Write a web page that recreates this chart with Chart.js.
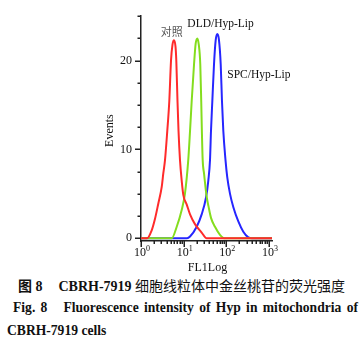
<!DOCTYPE html>
<html lang="zh">
<head>
<meta charset="utf-8">
<title>FL1 histogram</title>
<script src="https://cdn.jsdelivr.net/npm/chart.js@4.4.1/dist/chart.umd.min.js"></script>
<style>
    html, body { margin: 0; padding: 0; background: #fff; }
    .page { position: relative; width: 363px; height: 342px; overflow: hidden; }
    #histChart { position: absolute; left: 0; top: 0; }
    .cap-cn {
        position: absolute; left: 0; top: 279px; width: 363px;
        text-align: center; white-space: nowrap;
        font: 14px/16px "Liberation Serif", "Noto Sans CJK SC", serif; color: #111;
    }
    .cap-cn b { font-weight: bold; }
    .cap-cn .gap { display: inline-block; width: 16px; }
    .cap-en {
        position: absolute; left: 7px; top: 297px; width: 351px; margin: 0;
        text-align: justify; text-indent: 6px;
        font: bold 13.6px/22.5px "Liberation Serif", serif; color: #111;
    }
</style>
</head>
<body>
<div class="page">
    <canvas id="histChart" width="363" height="276"></canvas>
    <div class="cap-cn"><b>图 8</b><span class="gap"></span><b>CBRH-7919</b> 细胞线粒体中金丝桃苷的荧光强度</div>
    <p class="cap-en">Fig. 8&nbsp;&nbsp; Fluorescence intensity of Hyp in mitochondria of CBRH-7919 cells</p>
</div>

<script>
// ---- Histogram data (FL1 intensity, events per channel) ----
const seriesNames = ['对照', 'DLD/Hyp-Lip', 'SPC/Hyp-Lip'];

const ctrlX = [1, 1.38, 1.78, 2.13, 2.54, 3.06, 3.33, 3.65, 4.13, 4.6, 5.05, 5.47, 5.93,
               6.43, 6.72, 7.17, 7.57, 8.2, 8.99, 9.8, 11.8, 14.1, 18.4, 26.4, 34.6, 1175];
const ctrlY = [0, 0, 0.9, 2.2, 3.9, 5.8, 7.3, 8.8, 12.1, 15.4, 20, 21.8, 22.3,
               21.6, 20, 15.4, 12.1, 8.8, 6.5, 4.9, 3.8, 2.7, 1.6, 0.65, 0, 0];

const dldX = [1, 4.29, 5.24, 6.87, 8.99, 10.7, 12.8, 14.1, 15.4, 17.5, 19.1, 20.9, 22.6,
              24.5, 25.8, 26.7, 27.9, 30.0, 34.3, 38.2, 43.7, 54.2, 71.0, 93.0, 1175];
const dldY = [0, 0, 0, 1.3, 3.2, 5.0, 8.8, 12.1, 15.4, 19.6, 21.9, 22.5, 21.8,
              19.6, 15.4, 12.1, 8.8, 7.3, 4.8, 3.6, 2.3, 1.3, 0.4, 0, 0];

const spcX = [1, 12.0, 14.1, 20.2, 26.4, 33.4, 37.8, 41.4, 43.7, 46.9, 51.4, 56.3, 61.4,
              66.9, 73.8, 79.1, 84.9, 95.6, 105, 122, 146, 191, 250, 327, 399, 1175];
const spcY = [0, 0, 0.2, 1.3, 2.7, 4.6, 6.5, 8.8, 12.1, 15.4, 19.6, 22.3, 23.0,
              22.4, 19.6, 15.4, 12.1, 8.8, 6.9, 5.0, 3.5, 1.9, 0.74, 0.1, 0, 0];

// ---- Axis ticks ----
const xMajorTicks = [1, 10, 100, 1000];
const xTickLabels = ['0', '1', '2', '3'];          // exponents of 10
const yMajorTicks = [0, 10, 20];
const yMinorTicks = [2.5, 5, 7.5, 12.5, 15, 17.5, 22.5, 25];

const xMinorTicks = [];
[1, 10, 100].forEach(decade => {
    for (let m = 2; m <= 9; m++) xMinorTicks.push(decade * m);
});

const SERIF = '"Liberation Serif", "Times New Roman", serif';
const COLORS = ['#ff2b2b', '#84dd1e', '#2626ff'];

function toPoints(xs, ys) {
    return xs.map((x, i) => ({ x: x, y: ys[i] }));
}

// Axis tick marks, superscript decade labels, axis titles and curve labels
const decorPlugin = {
    id: 'decor',
    afterDraw(chart) {
        const { ctx, scales: { x, y }, chartArea: area } = chart;
        ctx.save();
        ctx.strokeStyle = '#222';
        ctx.lineWidth = 1.5;
        ctx.beginPath();
        yMajorTicks.forEach(v => {
            const py = Math.round(y.getPixelForValue(v)) + 0.25;
            ctx.moveTo(area.left - 6, py); ctx.lineTo(area.left, py);
        });
        yMinorTicks.forEach(v => {
            const py = Math.round(y.getPixelForValue(v)) + 0.25;
            ctx.moveTo(area.left - 3.5, py); ctx.lineTo(area.left, py);
        });
        xMajorTicks.forEach(v => {
            const px = Math.round(x.getPixelForValue(v)) + 0.25;
            ctx.moveTo(px, area.bottom); ctx.lineTo(px, area.bottom + 6);
        });
        xMinorTicks.forEach(v => {
            const px = Math.round(x.getPixelForValue(v)) + 0.25;
            ctx.moveTo(px, area.bottom); ctx.lineTo(px, area.bottom + 3);
        });
        ctx.stroke();

        // 10^n labels
        ctx.fillStyle = '#111';
        ctx.textBaseline = 'alphabetic';
        xMajorTicks.forEach((v, i) => {
            const px = x.getPixelForValue(v) + 1;
            ctx.font = '12px ' + SERIF;
            const wBase = ctx.measureText('10').width;
            ctx.font = '8px ' + SERIF;
            const wExp = ctx.measureText(xTickLabels[i]).width;
            const left = px - (wBase + wExp) / 2;
            ctx.font = '12px ' + SERIF;
            ctx.textAlign = 'left';
            ctx.fillText('10', left, area.bottom + 14.5);
            ctx.font = '8px ' + SERIF;
            ctx.fillText(xTickLabels[i], left + wBase, area.bottom + 10);
        });

        // axis titles
        ctx.font = '12px ' + SERIF;
        ctx.textAlign = 'center';
        ctx.fillText('FL1Log', (area.left + area.right) / 2 + 1, area.bottom + 30);
        ctx.save();
        ctx.translate(area.left - 31, (area.top + area.bottom) / 2 + 2);
        ctx.rotate(-Math.PI / 2);
        ctx.textBaseline = 'middle';
        ctx.fillText('Events', 0, 0);
        ctx.restore();

        // curve labels
        ctx.font = '11px "Noto Sans CJK SC", sans-serif';
        ctx.fillStyle = '#555';
        ctx.textAlign = 'center';
        ctx.textBaseline = 'middle';
        ctx.fillText(seriesNames[0], x.getPixelForValue(5.24), y.getPixelForValue(23.2));
        ctx.font = '11.5px ' + SERIF;
        ctx.fillStyle = '#111';
        ctx.textAlign = 'left';
        ctx.textBaseline = 'alphabetic';
        ctx.fillText(seriesNames[1], x.getPixelForValue(12.2), y.getPixelForValue(23.8));
        ctx.fillText(seriesNames[2], x.getPixelForValue(105), y.getPixelForValue(18.05));
        ctx.restore();
    }
};

const datasets = [
    toPoints(ctrlX, ctrlY),
    toPoints(dldX, dldY),
    toPoints(spcX, spcY),
].map((pts, i) => ({
    label: seriesNames[i],
    data: pts,
    borderColor: COLORS[i],
    borderWidth: 2,
    pointRadius: 0,
    showLine: true,
    fill: false,
    cubicInterpolationMode: 'monotone',
}));

new Chart(document.getElementById('histChart'), {
    type: 'scatter',
    data: { datasets: datasets },
    plugins: [decorPlugin],
    options: {
        responsive: false,
        animation: false,
        devicePixelRatio: 1,
        layout: { padding: { left: 96, top: 15, right: 91, bottom: 0 } },
        plugins: {
            legend: { display: false },
            tooltip: { enabled: false },
        },
        scales: {
            x: {
                type: 'logarithmic',
                min: 1,
                max: 1175,
                grid: { display: false, drawTicks: false },
                border: { display: true, color: '#222', width: 1.5 },
                ticks: { display: false },
                afterFit: (s) => { s.height = 35; },
            },
            y: {
                type: 'linear',
                min: -0.3,
                max: 25,
                grid: { display: false, drawTicks: false },
                border: { display: true, color: '#222', width: 1.5 },
                ticks: {
                    color: '#111',
                    padding: 9,
                    font: { family: SERIF, size: 12 },
                    callback: (v) => String(v),
                },
                afterBuildTicks: (s) => { s.ticks = yMajorTicks.map(v => ({ value: v })); },
                afterFit: (s) => { s.width = 45; },
            },
        },
    },
});
</script>
</body>
</html>
